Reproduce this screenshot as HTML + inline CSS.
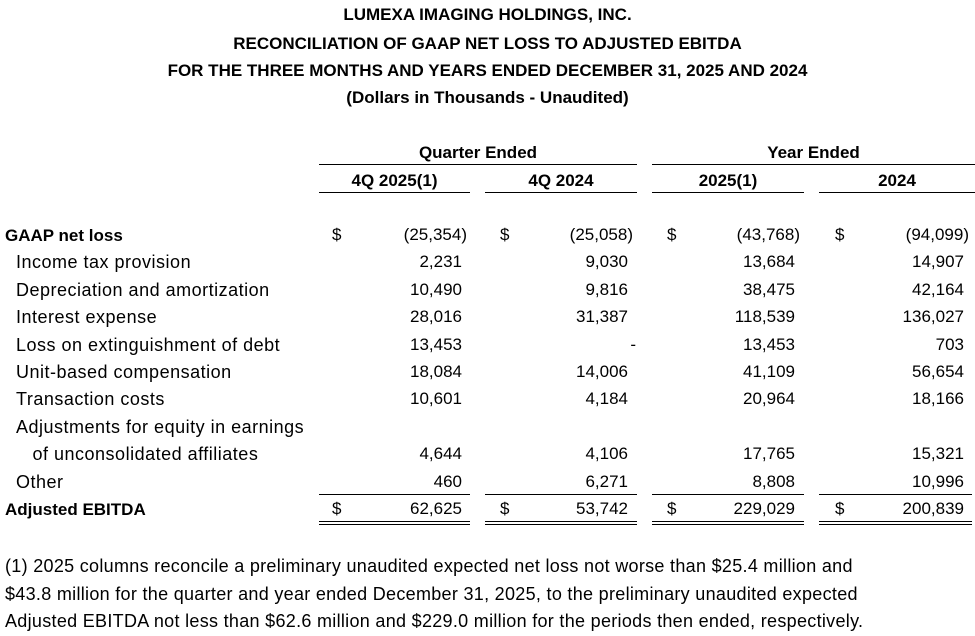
<!DOCTYPE html>
<html><head><meta charset="utf-8"><style>
body{margin:0;width:975px;height:636px;background:#fff;position:relative;overflow:hidden;font-family:"Liberation Sans",sans-serif;color:#000}
.t{position:absolute;white-space:nowrap;line-height:20px}
.c{left:0;width:975px;text-align:center;font-family:"Liberation Sans Narrow","Liberation Sans",sans-serif;font-weight:bold;font-size:17px}
.h{font-family:"Liberation Sans Narrow","Liberation Sans",sans-serif;font-weight:bold;font-size:17px;text-align:center}
.l{font-size:18px;left:5px;letter-spacing:0.5px}
.l b{letter-spacing:0;font-size:17px}
.n{font-family:"Liberation Sans Narrow","Liberation Sans",sans-serif;font-size:17px;text-align:right}
.d{font-family:"Liberation Sans Narrow","Liberation Sans",sans-serif;font-size:17px}
.ln{position:absolute;height:0;border-top:1.5px solid #000}
.dl{position:absolute;height:2px;border-top:1.5px solid #000;border-bottom:1.5px solid #000}
.f{font-size:18px;left:5px;letter-spacing:0.3px}
</style></head><body>
<div class="t c" style="top:5px">LUMEXA IMAGING HOLDINGS, INC.</div>
<div class="t c" style="top:34px">RECONCILIATION OF GAAP NET LOSS TO ADJUSTED EBITDA</div>
<div class="t c" style="top:61px">FOR THE THREE MONTHS AND YEARS ENDED DECEMBER 31, 2025 AND 2024</div>
<div class="t c" style="top:88px">(Dollars in Thousands - Unaudited)</div>

<div class="t h" style="top:143px;left:319px;width:318px">Quarter Ended</div>
<div class="t h" style="top:143px;left:652px;width:323px">Year Ended</div>
<div class="ln" style="top:164px;left:319px;width:318px"></div>
<div class="ln" style="top:164px;left:652px;width:323px"></div>
<div class="t h" style="top:171px;left:319px;width:151px">4Q 2025(1)</div>
<div class="t h" style="top:171px;left:485px;width:152px">4Q 2024</div>
<div class="t h" style="top:171px;left:652px;width:152px">2025(1)</div>
<div class="t h" style="top:171px;left:819px;width:156px">2024</div>
<div class="ln" style="top:192px;left:319px;width:151px"></div>
<div class="ln" style="top:192px;left:485px;width:152px"></div>
<div class="ln" style="top:192px;left:652px;width:152px"></div>
<div class="ln" style="top:192px;left:819px;width:156px"></div>

<div id="rows"></div>
<div class="ln" style="top:494px;left:319px;width:151px"></div>
<div class="ln" style="top:494px;left:485px;width:152px"></div>
<div class="ln" style="top:494px;left:652px;width:152px"></div>
<div class="ln" style="top:494px;left:819px;width:153px"></div>
<div class="dl" style="top:521px;left:319px;width:151px"></div>
<div class="dl" style="top:521px;left:485px;width:152px"></div>
<div class="dl" style="top:521px;left:652px;width:152px"></div>
<div class="dl" style="top:521px;left:819px;width:153px"></div>

<div class="t f" style="top:556px">(1) 2025 columns reconcile a preliminary unaudited expected net loss not worse than $25.4 million and</div>
<div class="t f" style="top:584px">$43.8 million for the quarter and year ended December 31, 2025, to the preliminary unaudited expected</div>
<div class="t f" style="top:611px">Adjusted EBITDA not less than $62.6 million and $229.0 million for the periods then ended, respectively.</div>

<script>
var R=[
["<b>GAAP net loss</b>",235,["(25,354)","(25,058)","(43,768)","(94,099)"],1],
["&nbsp;&nbsp;Income tax provision",262,["2,231","9,030","13,684","14,907"]],
["&nbsp;&nbsp;Depreciation and amortization",290,["10,490","9,816","38,475","42,164"]],
["&nbsp;&nbsp;Interest expense",317,["28,016","31,387","118,539","136,027"]],
["&nbsp;&nbsp;Loss on extinguishment of debt",345,["13,453","-","13,453","703"]],
["&nbsp;&nbsp;Unit-based compensation",372,["18,084","14,006","41,109","56,654"]],
["&nbsp;&nbsp;Transaction costs",399,["10,601","4,184","20,964","18,166"]],
["&nbsp;&nbsp;Adjustments for equity in earnings",427,null],
["&nbsp;&nbsp;&nbsp;&nbsp;&nbsp;of unconsolidated affiliates",454,["4,644","4,106","17,765","15,321"]],
["&nbsp;&nbsp;Other",482,["460","6,271","8,808","10,996"]],
["<b>Adjusted EBITDA</b>",509,["62,625","53,742","229,029","200,839"],1]];
var rs=[462,628,795,964],ds=[332,500,667,835],h="";
R.forEach(function(r){var top=r[1]-10;
h+='<div class="t l" style="top:'+top+'px">'+r[0]+'</div>';
if(r[2])r[2].forEach(function(v,i){var p=v[0]=="("?5:(v=="-"?8:0);
h+='<div class="t n" style="top:'+top+'px;left:'+(rs[i]-150+p)+'px;width:150px">'+v+'</div>';
if(r[3])h+='<div class="t d" style="top:'+top+'px;left:'+ds[i]+'px">$</div>';});});
document.getElementById("rows").innerHTML=h;
</script>
</body></html>
